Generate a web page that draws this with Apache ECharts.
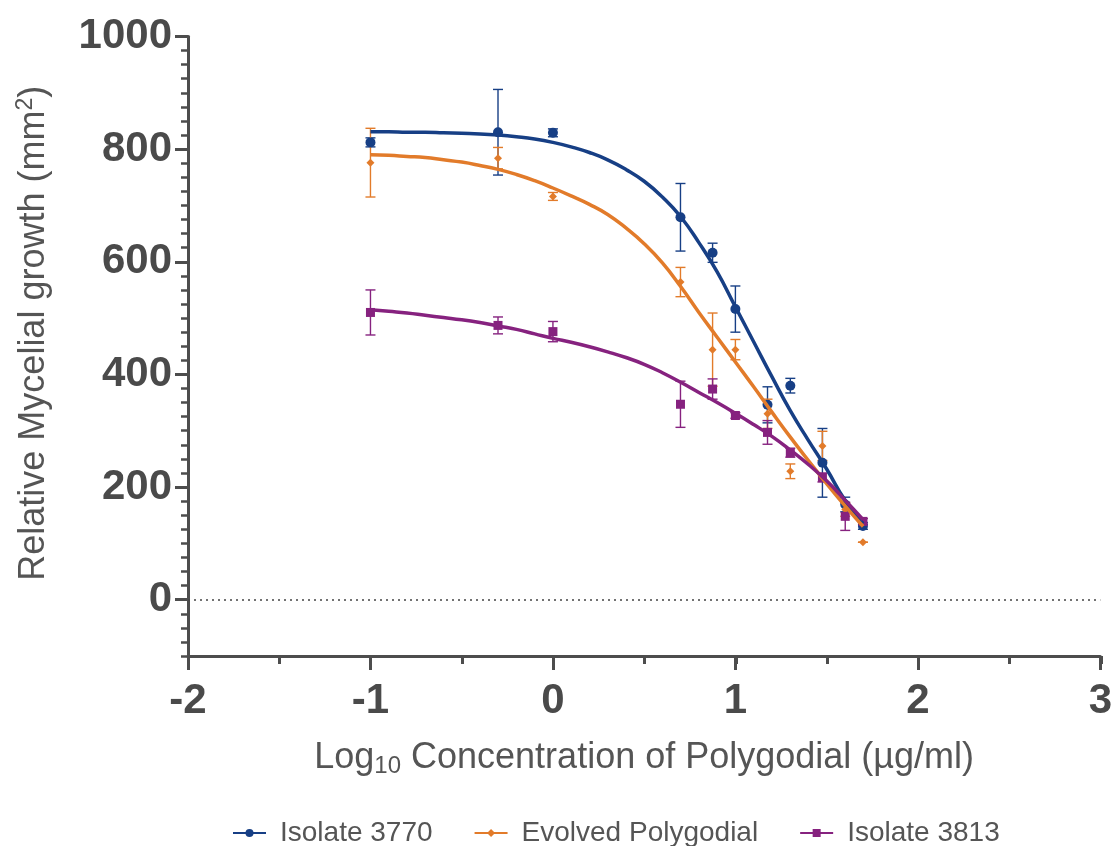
<!DOCTYPE html>
<html><head><meta charset="utf-8">
<script src="https://cdn.jsdelivr.net/npm/echarts@6/dist/echarts.min.js"></script>
<style>html,body{margin:0;padding:0;background:#fff}#c{width:1115px;height:846px}</style>
</head><body><div id="c"></div><script>
// Log10 concentration of polygodial (µg/ml)
const doses = [-1, -0.301, 0, 0.699, 0.875, 1, 1.176, 1.301, 1.477, 1.602, 1.699];
// mean relative mycelial growth (mm²) and error
const iso3770 = [812, 830, 829, 679, 616, 516, 346, 380, 243, 169, 131];
const iso3770Err = [8, 76, 7, 60, 17, 41, 32, 13, 61, 13, 6];
const evolved = [776, 784, 716, 564, 444, 444, 330, 228, 273, 160, 102];
const evolvedErr = [61, 19, 7, 26, 65, 18, 26, 13, 26, 12, 0];
const iso3813 = [510, 487, 476, 347, 374, 327, 297, 261, 217, 148, 139];
const iso3813Err = [40, 15, 18, 41, 18, 5, 21, 8, 8, 25, 5];
// fitted curves, values every 0.1 log unit
const curveX = [-1, -0.9, -0.8, -0.7, -0.6, -0.5, -0.4, -0.3, -0.2, -0.1, 0, 0.1, 0.2, 0.3,
  0.4, 0.5, 0.6, 0.7, 0.8, 0.9, 1.0, 1.1, 1.2, 1.3, 1.4, 1.5, 1.6, 1.7];
const fit3770 = [831, 831, 830, 830, 829, 828, 827, 825, 822, 818, 812, 804, 794, 781,
  764, 743, 715, 680, 634, 582, 520, 458, 396, 336, 283, 232, 177, 135];
const fitEvolved = [790, 789, 787, 785, 781, 777, 771, 764, 755, 744, 731, 717, 702, 684,
  660, 632, 598, 556, 510, 466, 422, 378, 333, 289, 247, 206, 167, 130];
const fit3813 = [515, 512, 509, 505, 501, 497, 492, 486, 480, 472, 464, 457, 449, 440,
  430, 418, 403, 386, 368, 350, 331, 311, 290, 266, 240, 211, 177, 142];
const yTickLabels = [0, 200, 400, 600, 800, 1000];
const names = ['Isolate 3770', 'Evolved Polygodial', 'Isolate 3813'];
const colors = ['#173f85', '#e27b2a', '#86227f'];
const symbols = ['circle', 'diamond', 'rect'];
const symbolSizes = [10, 8, 9];

const means = [iso3770, evolved, iso3813];
const errs = [iso3770Err, evolvedErr, iso3813Err];
const fits = [fit3770, fitEvolved, fit3813];

const axisColor = '#4d4d4d';
const labelColor = '#4a4a4a';
const FONT = 'Liberation Sans, Arial, sans-serif';

const series = [];
for (let i = 0; i < 3; i++) {
  series.push({
    name: names[i] + ' error', type: 'custom', xAxisIndex: 0, yAxisIndex: 0, z: 2,
    data: doses.map((d, k) => [d, means[i][k] - errs[i][k], means[i][k] + errs[i][k]]),
    renderItem: (function (color) {
      return function (params, api) {
        const x = api.value(0);
        const lo = api.coord([x, api.value(1)]);
        const hi = api.coord([x, api.value(2)]);
        const w = 5;
        const st = { stroke: color, lineWidth: 1.4 };
        return { type: 'group', children: [
          { type: 'line', shape: { x1: lo[0], y1: lo[1], x2: hi[0], y2: hi[1] }, style: st },
          { type: 'line', shape: { x1: lo[0] - w, y1: lo[1], x2: lo[0] + w, y2: lo[1] }, style: st },
          { type: 'line', shape: { x1: hi[0] - w, y1: hi[1], x2: hi[0] + w, y2: hi[1] }, style: st }
        ]};
      };
    })(colors[i]),
    silent: true
  });
}
for (let i = 0; i < 3; i++) {
  const s = {
    name: names[i], type: 'line', xAxisIndex: 0, yAxisIndex: 0, z: 4,
    smooth: 0.5, symbol: symbols[i], symbolSize: symbolSizes[i], showSymbol: false,
    data: curveX.map((x, k) => [x, fits[i][k]]),
    lineStyle: { color: colors[i], width: 3.5 }, itemStyle: { color: colors[i] },
    silent: true
  };
  if (i === 0) {
    s.markLine = { silent: true, symbol: 'none', label: { show: false },
      lineStyle: { color: '#444', type: [2, 4], width: 1.5 }, data: [{ yAxis: 0 }] };
  }
  series.push(s);
}
for (let i = 0; i < 3; i++) {
  series.push({
    name: names[i], type: 'scatter', xAxisIndex: 0, yAxisIndex: 0, z: 3,
    symbol: symbols[i], symbolSize: symbolSizes[i],
    data: doses.map((d, k) => [d, means[i][k]]),
    itemStyle: { color: colors[i], opacity: 1 }, silent: true
  });
}

const chart = echarts.init(document.getElementById('c'), null, { renderer: 'canvas' });
chart.setOption({
  animation: false,
  backgroundColor: '#fff',
  grid: [
    { left: 188, right: 14, top: 36.5, bottom: 190, containLabel: false },
    { left: 188, right: 14, top: 36.5, bottom: 190, containLabel: false }
  ],
  legend: {
    data: names, top: 814, left: 227, itemWidth: 33, itemHeight: 10, itemGap: 41,
    textStyle: { fontSize: 28, color: '#555', fontFamily: FONT, padding: [0, 0, 0, 9] }
  },
  xAxis: [
    { gridIndex: 0, type: 'value', min: -2, max: 3, interval: 1,
      axisLine: { show: true, onZero: false, lineStyle: { color: axisColor, width: 3 } },
      axisTick: { show: true, length: 14, lineStyle: { color: axisColor, width: 3 } },
      axisLabel: { color: labelColor, fontSize: 42, fontWeight: 'bold', fontFamily: FONT, margin: 24 },
      splitLine: { show: false },
      name: '{a|Log}{s|10}{a| Concentration of Polygodial (µg/ml)}',
      nameLocation: 'middle', nameGap: 82,
      nameTextStyle: { rich: {
        a: { fontSize: 36, color: '#555', fontFamily: FONT },
        s: { fontSize: 24, color: '#555', fontFamily: FONT, padding: [16, 0, 0, 0] }
      } }
    },
    { gridIndex: 1, type: 'value', min: -2, max: 3, interval: 0.5,
      axisLine: { show: false, onZero: false }, axisLabel: { show: false }, splitLine: { show: false },
      axisTick: { show: true, length: 8, lineStyle: { color: axisColor, width: 3 } }
    }
  ],
  yAxis: [
    { gridIndex: 0, type: 'value', min: -100, max: 1000, interval: 100,
      axisLine: { show: true, onZero: false, lineStyle: { color: axisColor, width: 3 } },
      axisTick: { show: true, length: 13, customValues: yTickLabels, lineStyle: { color: axisColor, width: 3 } },
      axisLabel: { color: labelColor, fontSize: 42, fontWeight: 'bold', fontFamily: FONT, margin: 16,
        customValues: yTickLabels, formatter: function (v) { return String(v); } },
      splitLine: { show: false },
      name: '{a|Relative Mycelial growth (mm}{s|2}{a|)}',
      nameLocation: 'middle', nameGap: 134, nameRotate: 90,
      nameTextStyle: { padding: [0, 0, 0, 26], rich: {
        a: { fontSize: 36, color: '#555', fontFamily: FONT },
        s: { fontSize: 23, color: '#555', fontFamily: FONT, padding: [0, 0, 17, 0] }
      } }
    },
    { gridIndex: 1, type: 'value', min: -100, max: 1000, interval: 25,
      axisLine: { show: false, onZero: false }, axisLabel: { show: false }, splitLine: { show: false },
      axisTick: { show: true, length: 7, lineStyle: { color: axisColor, width: 2.5 } }
    }
  ],
  series: series
});
</script></body></html>
